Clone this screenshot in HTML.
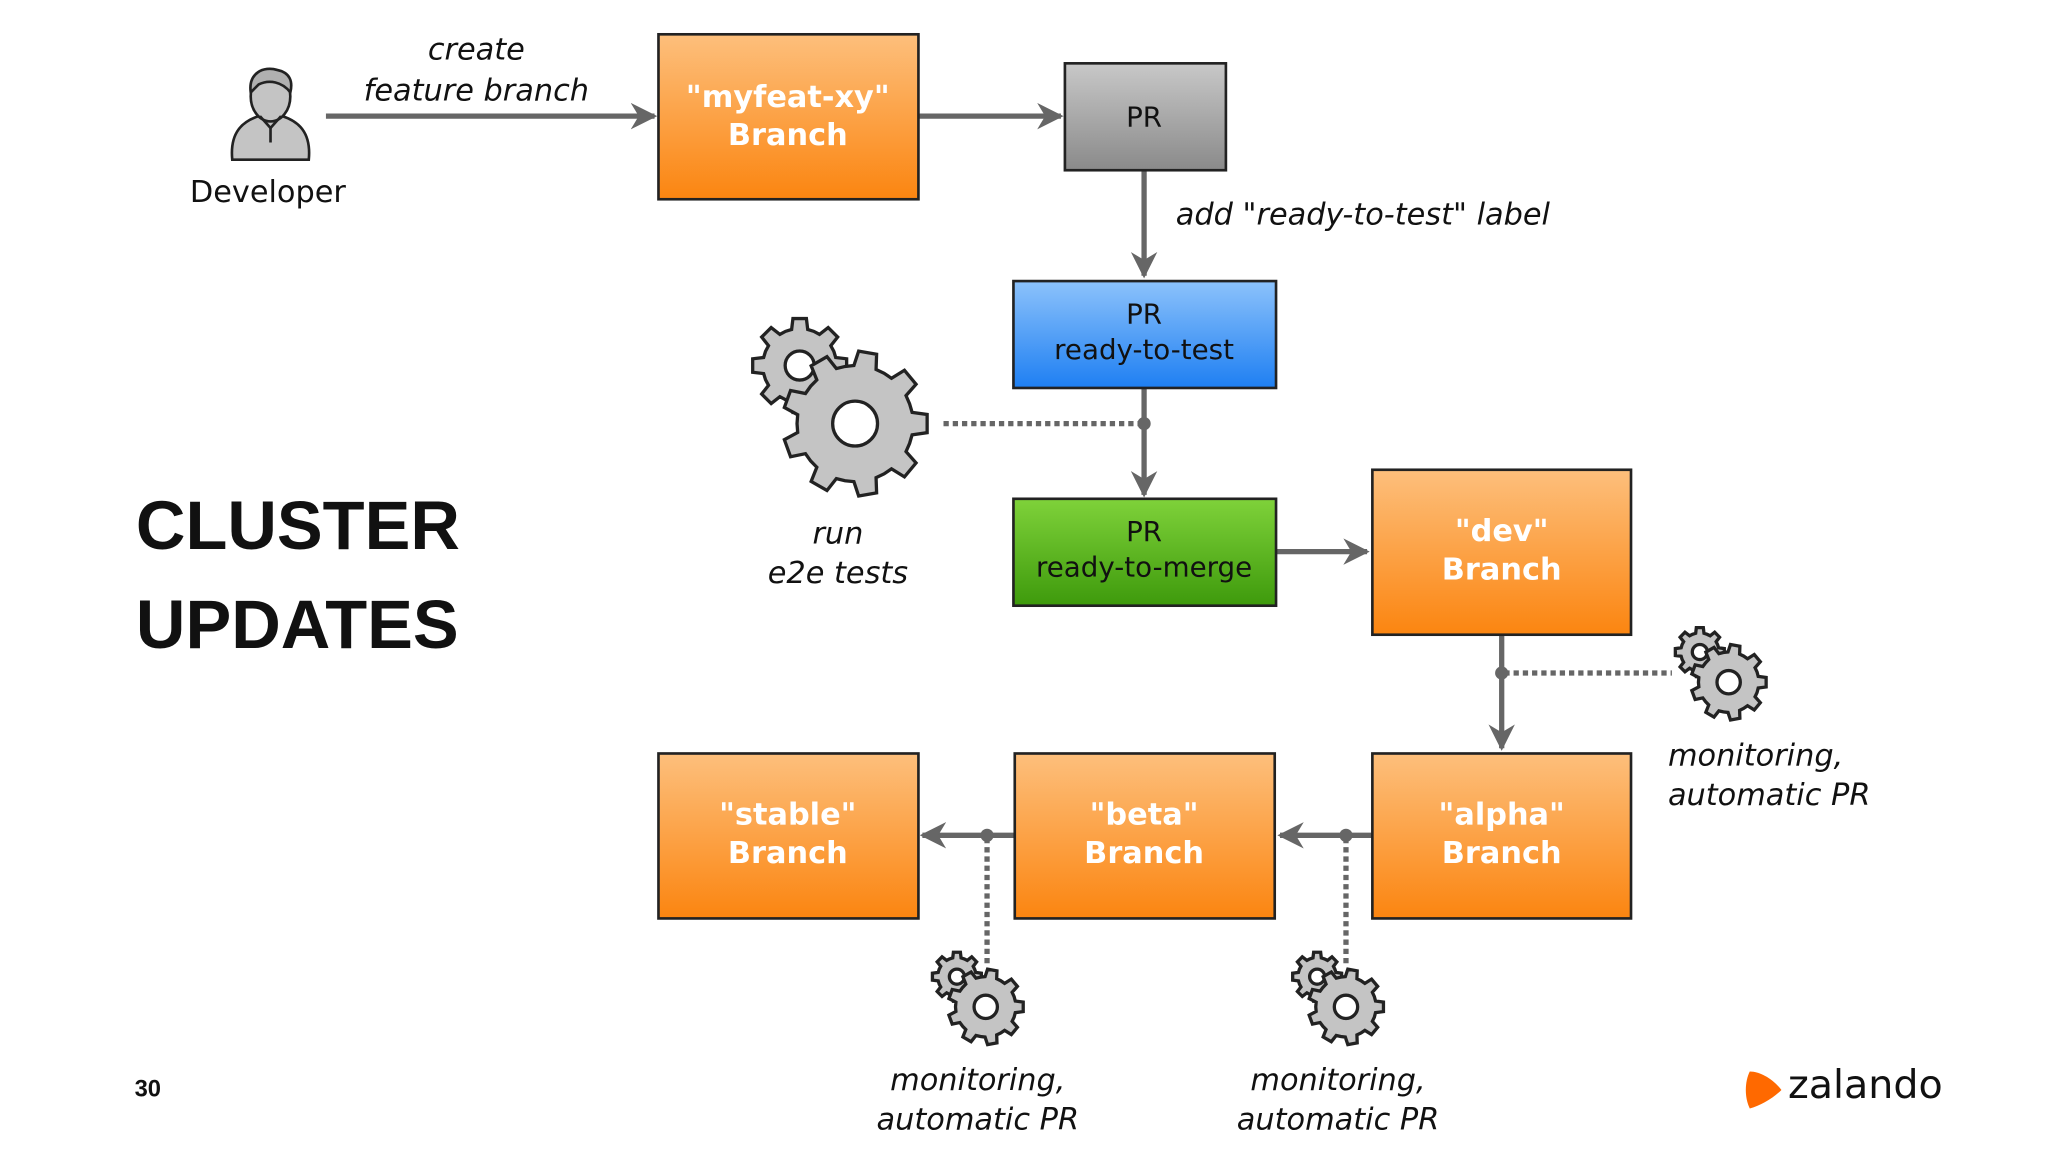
<!DOCTYPE html>
<html><head><meta charset="utf-8">
<style>
html,body{margin:0;padding:0;background:#fff;}
svg{display:block;}
text{font-family:"DejaVu Sans","Liberation Sans",sans-serif;}
.it{font-style:italic;font-size:23px;fill:#111;}
.bx{font-weight:bold;font-size:23px;fill:#fff;text-anchor:middle;}
.pr{font-size:21px;fill:#111;text-anchor:middle;}
</style></head>
<body>
<svg id="s" width="2048" height="1152" viewBox="0 0 1552 873" preserveAspectRatio="none" xmlns="http://www.w3.org/2000/svg">
<defs>
<linearGradient id="og" x1="0" y1="0" x2="0" y2="1"><stop offset="0" stop-color="#fdbf7c"/><stop offset="1" stop-color="#fb8510"/></linearGradient>
<linearGradient id="gg" x1="0" y1="0" x2="0" y2="1"><stop offset="0" stop-color="#c8c8c8"/><stop offset="1" stop-color="#8a8a8a"/></linearGradient>
<linearGradient id="bg" x1="0" y1="0" x2="0" y2="1"><stop offset="0" stop-color="#8cc2fb"/><stop offset="1" stop-color="#1e7ff2"/></linearGradient>
<linearGradient id="grg" x1="0" y1="0" x2="0" y2="1"><stop offset="0" stop-color="#7fd23a"/><stop offset="1" stop-color="#3e9a0c"/></linearGradient>
<marker id="ah" viewBox="0 0 20 20" refX="18" refY="10" markerWidth="20" markerHeight="20" markerUnits="userSpaceOnUse" orient="auto"><path d="M0,0 L20,10 L0,20 L6,10 Z" fill="#666"/></marker>
</defs>
<g stroke="#666" stroke-width="4" fill="none">
<line x1="247" y1="88" x2="496" y2="88" marker-end="url(#ah)"/>
<line x1="696" y1="88" x2="804" y2="88" marker-end="url(#ah)"/>
<line x1="867" y1="129" x2="867" y2="209" marker-end="url(#ah)"/>
<line x1="867" y1="294" x2="867" y2="375" marker-end="url(#ah)"/>
<line x1="967" y1="418" x2="1036" y2="418" marker-end="url(#ah)"/>
<line x1="1138" y1="481" x2="1138" y2="567" marker-end="url(#ah)"/>
<line x1="1040" y1="633" x2="970" y2="633" marker-end="url(#ah)"/>
<line x1="769" y1="633" x2="699" y2="633" marker-end="url(#ah)"/>
</g>
<g stroke="#666" stroke-width="4" stroke-dasharray="4,3" fill="none">
<line x1="715" y1="321" x2="865" y2="321"/>
<line x1="1140" y1="510" x2="1267" y2="510"/>
<line x1="1020" y1="635" x2="1020" y2="730"/>
<line x1="748" y1="635" x2="748" y2="730"/>
</g>
<g fill="#666"><circle cx="867" cy="321" r="5"/><circle cx="1138" cy="510" r="5"/><circle cx="1020" cy="633" r="5"/><circle cx="748" cy="633" r="5"/></g>
<g stroke="#222" stroke-width="2">
<rect x="499" y="26" width="197" height="125" fill="url(#og)"/>
<rect x="807" y="48" width="122" height="81" fill="url(#gg)"/>
<rect x="768" y="213" width="199" height="81" fill="url(#bg)"/>
<rect x="768" y="378" width="199" height="81" fill="url(#grg)"/>
<rect x="1040" y="356" width="196" height="125" fill="url(#og)"/>
<rect x="1040" y="571" width="196" height="125" fill="url(#og)"/>
<rect x="769" y="571" width="197" height="125" fill="url(#og)"/>
<rect x="499" y="571" width="197" height="125" fill="url(#og)"/>
</g>
<text class="bx" x="597" y="81">"myfeat-xy"</text><text class="bx" x="597" y="110">Branch</text>
<text class="pr" x="867" y="96">PR</text>
<text class="pr" x="867" y="245">PR</text><text class="pr" x="867" y="272">ready-to-test</text>
<text class="pr" x="867" y="410">PR</text><text class="pr" x="867" y="437">ready-to-merge</text>
<text class="bx" x="1138" y="410">"dev"</text><text class="bx" x="1138" y="439">Branch</text>
<text class="bx" x="1138" y="625">"alpha"</text><text class="bx" x="1138" y="654">Branch</text>
<text class="bx" x="867" y="625">"beta"</text><text class="bx" x="867" y="654">Branch</text>
<text class="bx" x="597" y="625">"stable"</text><text class="bx" x="597" y="654">Branch</text>
<text class="it" x="361" y="45" text-anchor="middle">create</text>
<text class="it" x="361" y="76" text-anchor="middle">feature branch</text>
<text class="it" x="891" y="170">add "ready-to-test" label</text>
<text class="it" x="635" y="412" text-anchor="middle">run</text>
<text class="it" x="635" y="442" text-anchor="middle">e2e tests</text>
<text class="it" x="1264" y="580">monitoring,</text>
<text class="it" x="1264" y="610">automatic PR</text>
<text class="it" x="1014" y="826" text-anchor="middle">monitoring,</text>
<text class="it" x="1014" y="856" text-anchor="middle">automatic PR</text>
<text class="it" x="741" y="826" text-anchor="middle">monitoring,</text>
<text class="it" x="741" y="856" text-anchor="middle">automatic PR</text>
<text x="203" y="153" text-anchor="middle" style="font-size:23px;fill:#111">Developer</text>
<!-- developer icon -->
<g stroke="#222" stroke-width="2" fill="#c4c4c4">
<path d="M176,121 C174,100 184,92 196,88 L214,88 C226,92 236,100 234,121 Z"/>
<ellipse cx="205" cy="73" rx="15" ry="19"/>
<path d="M190,70 C188,55 200,50 210,53 C220,55 222,62 220,70 C214,62 204,60 196,64 Z" fill="#b0b0b0"/>
<path d="M197,88 L205,97 L213,88" fill="none"/>
<line x1="205" y1="97" x2="205" y2="108"/>
</g>
<g id="gears" stroke="#222" stroke-width="2.5" fill="#c4c4c4" fill-rule="evenodd"></g>
<text x="103" y="416" style="font-family:'Liberation Sans',sans-serif;font-weight:bold;font-size:52px;fill:#111">CLUSTER</text>
<text x="103" y="491" style="font-family:'Liberation Sans',sans-serif;font-weight:bold;font-size:52px;fill:#111">UPDATES</text>
<text x="102" y="831" style="font-family:'Liberation Sans',sans-serif;font-weight:bold;font-size:18px;fill:#111">30</text>
<path d="M1326,812 C1322,820 1322,832 1326,840 C1334,838 1344,832 1350,826 C1344,818 1334,812 1326,812 Z" fill="#ff6900"/>
<text x="1355" y="832" style="font-family:'DejaVu Sans',sans-serif;font-size:30px;fill:#111">zalando</text>
</svg>
<script>
function gear(cx,cy,ro,ri,rh,n){
 var d="",step=Math.PI*2/n;
 for(var i=0;i<n;i++){
  var a=i*step;
  var pts=[[ri,a-step*0.5],[ri,a-step*0.28],[ro,a-step*0.18],[ro,a+step*0.18],[ri,a+step*0.28]];
  pts.forEach(function(p,j){var x=cx+p[0]*Math.cos(p[1]),y=cy+p[0]*Math.sin(p[1]);d+=(i==0&&j==0?"M":"L")+x.toFixed(1)+","+y.toFixed(1);});
 }
 d+="Z M"+(cx+rh)+","+cy+" A"+rh+","+rh+" 0 1,0 "+(cx-rh)+","+cy+" A"+rh+","+rh+" 0 1,0 "+(cx+rh)+","+cy+"Z";
 return d;
}
var g=document.getElementById("gears"),h="";
function pair(bx,by,s){
 h+='<path d="'+gear(bx-42*s,by-44*s,36*s,28*s,11*s,8)+'"/>';
 h+='<path d="'+gear(bx,by,55*s,44*s,17*s,9)+'"/>';
}
pair(648,321,1);
pair(1310,517,0.52);
pair(1020,763,0.52);
pair(747,763,0.52);
g.innerHTML=h;
</script>
</body></html>
